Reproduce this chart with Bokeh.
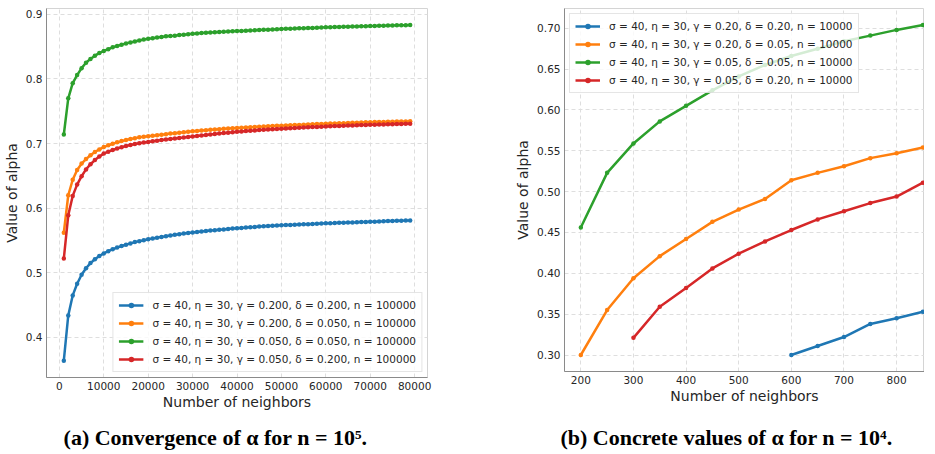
from bokeh.plotting import figure
from bokeh.layouts import row, column
from bokeh.models import Range1d, FixedTicker, NumeralTickFormatter, Label
from bokeh.embed import file_html
from bokeh.resources import INLINE

# ---------------- data: panel (a), n = 10^5 ----------------
neighbors_a = list(range(1000, 80000, 1000))
alpha_a_g020_d020 = [0.364, 0.434, 0.465, 0.483, 0.497, 0.507, 0.515, 0.521, 0.526, 0.530,
    0.5335, 0.5365, 0.539, 0.5415, 0.5435, 0.5455, 0.5475, 0.549, 0.5505, 0.552,
    0.5532, 0.5544, 0.5556, 0.5567, 0.5578, 0.5588, 0.5598, 0.5607, 0.5616, 0.5625,
    0.5632, 0.5639, 0.5646, 0.5653, 0.566, 0.5666, 0.5672, 0.5678, 0.5684, 0.569,
    0.5695, 0.57, 0.5705, 0.571, 0.5715, 0.5719, 0.5723, 0.5727, 0.5731, 0.5735,
    0.5738, 0.5741, 0.5744, 0.5747, 0.575, 0.5753, 0.5756, 0.5759, 0.5762, 0.5765,
    0.5768, 0.577, 0.5773, 0.5775, 0.5778, 0.578, 0.5782, 0.5785, 0.5787, 0.579,
    0.5792, 0.5795, 0.5797, 0.58, 0.5802, 0.5804, 0.5806, 0.5808, 0.581]
alpha_a_g020_d005 = [0.562, 0.620, 0.644, 0.659, 0.669, 0.676, 0.682, 0.687, 0.691, 0.6945,
    0.6972, 0.6997, 0.7019, 0.7038, 0.7055, 0.707, 0.7084, 0.7096, 0.7105, 0.7113,
    0.7122, 0.713, 0.7138, 0.7146, 0.7154, 0.7161, 0.7168, 0.7175, 0.7182, 0.7189,
    0.7195, 0.7201, 0.7207, 0.7213, 0.7218, 0.7223, 0.7228, 0.7232, 0.7237, 0.7241,
    0.7245, 0.7249, 0.7253, 0.7257, 0.7261, 0.7264, 0.7268, 0.7271, 0.7274, 0.7277,
    0.728, 0.7283, 0.7286, 0.7289, 0.7292, 0.7295, 0.7298, 0.7301, 0.7304, 0.7307,
    0.7309, 0.7312, 0.7314, 0.7316, 0.7319, 0.7321, 0.7323, 0.7326, 0.7328, 0.733,
    0.7332, 0.7334, 0.7335, 0.7337, 0.7338, 0.734, 0.7341, 0.7343, 0.7344]
alpha_a_g005_d005 = [0.714, 0.770, 0.7935, 0.806, 0.8167, 0.825, 0.831, 0.836, 0.840, 0.8434,
    0.846, 0.849, 0.851, 0.853, 0.855, 0.8565, 0.858, 0.8595, 0.861, 0.862,
    0.863, 0.864, 0.865, 0.866, 0.8665, 0.867, 0.868, 0.8685, 0.869, 0.870,
    0.8705, 0.871, 0.8714, 0.8718, 0.8722, 0.8726, 0.873, 0.8733, 0.8737, 0.874,
    0.8743, 0.8747, 0.875, 0.8753, 0.8757, 0.876, 0.8763, 0.8766, 0.8769, 0.8772,
    0.8775, 0.8778, 0.878, 0.8783, 0.8786, 0.8788, 0.879, 0.8793, 0.8795, 0.8798,
    0.880, 0.8802, 0.8804, 0.8806, 0.8808, 0.881, 0.8812, 0.8814, 0.8816, 0.8818,
    0.882, 0.8822, 0.8824, 0.8826, 0.8828, 0.8829, 0.883, 0.8832, 0.8833]
alpha_a_g005_d020 = [0.522, 0.589, 0.619, 0.6365, 0.6495, 0.660, 0.668, 0.6745, 0.680, 0.6845,
    0.6875, 0.6901, 0.6924, 0.6944, 0.6962, 0.6978, 0.6992, 0.7005, 0.7016, 0.7025,
    0.7035, 0.7045, 0.7054, 0.7063, 0.7071, 0.7079, 0.7087, 0.7094, 0.7101, 0.7108,
    0.7116, 0.7124, 0.7132, 0.714, 0.7148, 0.7155, 0.7162, 0.7169, 0.7176, 0.7183,
    0.7188, 0.7193, 0.7198, 0.7203, 0.7208, 0.7213, 0.7217, 0.7221, 0.7225, 0.7229,
    0.7233, 0.7237, 0.7241, 0.7245, 0.7249, 0.7252, 0.7255, 0.7258, 0.7261, 0.7264,
    0.7267, 0.727, 0.7273, 0.7276, 0.7278, 0.7281, 0.7283, 0.7286, 0.7288, 0.729,
    0.7292, 0.7294, 0.7296, 0.7298, 0.73, 0.7302, 0.7304, 0.7306, 0.7307]
labels_a = [
    "σ = 40, η = 30, γ = 0.200, δ = 0.200, n = 100000",
    "σ = 40, η = 30, γ = 0.200, δ = 0.050, n = 100000",
    "σ = 40, η = 30, γ = 0.050, δ = 0.050, n = 100000",
    "σ = 40, η = 30, γ = 0.050, δ = 0.200, n = 100000",
]
xticks_a = [0, 10000, 20000, 30000, 40000, 50000, 60000, 70000, 80000]
yticks_a = [0.4, 0.5, 0.6, 0.7, 0.8, 0.9]

# ---------------- data: panel (b), n = 10^4 ----------------
neighbors_b_g020_d020 = [600, 650, 700, 750, 800, 850]
alpha_b_g020_d020 = [0.300, 0.311, 0.322, 0.338, 0.345, 0.353]
neighbors_b_g020_d005 = [200, 250, 300, 350, 400, 450, 500, 550, 600, 650, 700, 750, 800, 850]
alpha_b_g020_d005 = [0.300, 0.355, 0.394, 0.421, 0.442, 0.463, 0.478, 0.491, 0.514, 0.523, 0.531, 0.541, 0.547, 0.554]
neighbors_b_g005_d005 = [200, 250, 300, 350, 400, 450, 500, 550, 600, 650, 700, 750, 800, 850]
alpha_b_g005_d005 = [0.456, 0.523, 0.559, 0.586, 0.605, 0.624, 0.641, 0.655, 0.666, 0.675, 0.684, 0.691, 0.698, 0.704]
neighbors_b_g005_d020 = [300, 350, 400, 450, 500, 550, 600, 650, 700, 750, 800, 850]
alpha_b_g005_d020 = [0.321, 0.359, 0.382, 0.406, 0.424, 0.439, 0.453, 0.466, 0.476, 0.486, 0.494, 0.511]
labels_b = [
    "σ = 40, η = 30, γ = 0.20, δ = 0.20, n = 10000",
    "σ = 40, η = 30, γ = 0.20, δ = 0.05, n = 10000",
    "σ = 40, η = 30, γ = 0.05, δ = 0.05, n = 10000",
    "σ = 40, η = 30, γ = 0.05, δ = 0.20, n = 10000",
]
xticks_b = [200, 300, 400, 500, 600, 700, 800]
yticks_b = [0.30, 0.35, 0.40, 0.45, 0.50, 0.55, 0.60, 0.65, 0.70]

colors = ["#1f77b4", "#ff7f0e", "#2ca02c", "#d62728"]
caption_a = "(a) Convergence of α for n = 10⁵."
caption_b = "(b) Concrete values of α for n = 10⁴."


def style(p):
    p.background_fill_color = "white"
    p.border_fill_color = "white"
    p.outline_line_color = "#d4d4d4"
    p.outline_line_width = 1
    for ax in (p.xaxis[0], p.yaxis[0]):
        ax.axis_line_color = "#8a8a8a"
        ax.axis_line_width = 1
        ax.major_tick_line_color = None
        ax.minor_tick_line_color = None
        ax.major_tick_out = 0
        ax.major_tick_in = 0
        ax.minor_tick_out = 0
        ax.minor_tick_in = 0
        ax.major_label_text_font = "DejaVu Sans"
        ax.major_label_text_font_size = "10.5px"
        ax.major_label_text_color = "#262626"
        ax.axis_label_text_font = "DejaVu Sans"
        ax.axis_label_text_font_size = "14px"
        ax.axis_label_text_font_style = "normal"
        ax.axis_label_text_color = "#262626"
    p.xaxis.major_label_standoff = 4
    p.xaxis.axis_label_standoff = 1
    p.yaxis.major_label_standoff = 4
    p.yaxis.axis_label_standoff = 3
    for g in p.grid:
        g.grid_line_color = "#dedede"
        g.grid_line_dash = "4 3"
        g.grid_line_width = 1


def style_legend(p):
    lg = p.legend[0]
    lg.label_text_font = "DejaVu Sans"
    lg.label_text_font_size = "10.5px"
    lg.label_text_color = "#262626"
    lg.glyph_width = 25
    lg.glyph_height = 14
    lg.label_height = 14
    lg.label_standoff = 9
    lg.spacing = 4
    lg.padding = 5
    lg.margin = 5
    lg.border_line_color = "#cccccc"
    lg.background_fill_color = "white"
    lg.background_fill_alpha = 0.8


def caption_fig(w, h, text, cx, cy):
    c = figure(width=w, height=h, output_backend="svg", toolbar_location=None,
               x_range=Range1d(0, w), y_range=Range1d(0, h), min_border=0,
               x_axis_location=None, y_axis_location=None)
    c.outline_line_color = None
    c.background_fill_color = "white"
    c.border_fill_color = "white"
    for g in c.grid:
        g.visible = False
    c.add_layout(Label(x=cx, y=cy, text=text, text_align="center", text_baseline="middle",
                       text_font="Liberation Serif", text_font_size="22px",
                       text_font_style="bold", text_color="black"))
    return c


# ---------------- panel (a) ----------------
pa = figure(frame_width=381, frame_height=369, output_backend="svg", toolbar_location=None,
            x_range=Range1d(-2900, 82900), y_range=Range1d(0.338, 0.909),
            min_border_left=41, min_border_right=58, min_border_top=2, min_border_bottom=39)
style(pa)
series_a = [alpha_a_g020_d020, alpha_a_g020_d005, alpha_a_g005_d005, alpha_a_g005_d020]
for vals, col, lab in zip(series_a, colors, labels_a):
    pa.line(neighbors_a, vals, line_color=col, line_width=2.5, legend_label=lab)
    pa.scatter(neighbors_a, vals, size=4.5, fill_color=col, line_width=0, legend_label=lab)
pa.xaxis.ticker = FixedTicker(ticks=xticks_a)
pa.yaxis.ticker = FixedTicker(ticks=yticks_a)
pa.xaxis.formatter = NumeralTickFormatter(format="0")
pa.yaxis.formatter = NumeralTickFormatter(format="0.0")
pa.xaxis.axis_label = "Number of neighbors"
pa.yaxis.axis_label = "Value of alpha"
style_legend(pa)
pa.legend.location = "bottom_right"

# ---------------- panel (b) ----------------
pb = figure(frame_width=360, frame_height=363, output_backend="svg", toolbar_location=None,
            x_range=Range1d(169, 853), y_range=Range1d(0.2798, 0.7242),
            min_border_left=79, min_border_right=0, min_border_top=8, min_border_bottom=39)
style(pb)
series_b = [(neighbors_b_g020_d020, alpha_b_g020_d020),
            (neighbors_b_g020_d005, alpha_b_g020_d005),
            (neighbors_b_g005_d005, alpha_b_g005_d005),
            (neighbors_b_g005_d020, alpha_b_g005_d020)]
for (xs, vals), col, lab in zip(series_b, colors, labels_b):
    pb.line(xs, vals, line_color=col, line_width=2.5, legend_label=lab)
    pb.scatter(xs, vals, size=4.5, fill_color=col, line_width=0, legend_label=lab)
pb.xaxis.ticker = FixedTicker(ticks=xticks_b)
pb.yaxis.ticker = FixedTicker(ticks=yticks_b)
pb.xaxis.formatter = NumeralTickFormatter(format="0")
pb.yaxis.formatter = NumeralTickFormatter(format="0.00")
pb.xaxis.axis_label = "Number of neighbors"
pb.yaxis.axis_label = "Value of alpha"
style_legend(pb)
pb.legend.location = "top_left"

# ---------------- captions ----------------
ca = caption_fig(480, 41, caption_a, 215, 14)
cb = caption_fig(439, 41, caption_b, 246, 14)

layout = column(row(pa, pb), row(ca, cb))
open("out.html", "w").write(file_html(layout, INLINE))
